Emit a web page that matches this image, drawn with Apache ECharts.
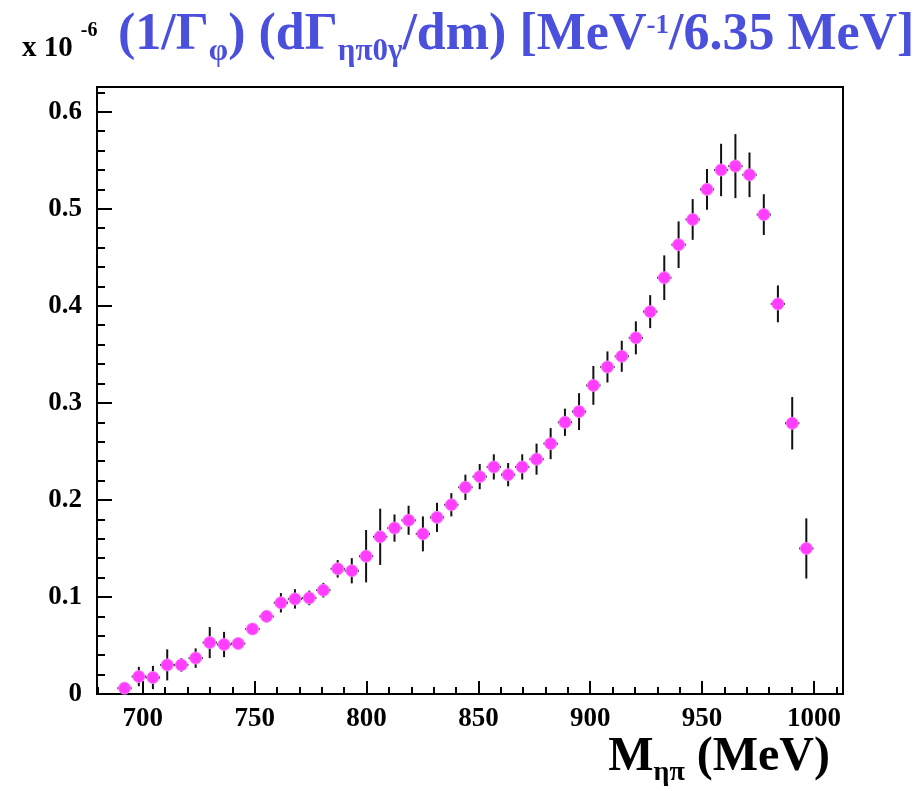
<!DOCTYPE html>
<html>
<head>
<meta charset="utf-8">
<script src="https://cdn.jsdelivr.net/npm/echarts@6/dist/echarts.min.js"></script>
<style>
html,body{margin:0;padding:0;background:#fff;}
#chart{width:921px;height:791px;}
</style>
</head>
<body>
<div id="chart"></div>
<script>
// Bin centres of M(eta pi) in MeV (bin width 6.35 MeV)
const mass = [691.8, 698.2, 704.5, 710.9, 717.2, 723.6, 729.9, 736.3, 742.6, 749.0,
  755.3, 761.7, 768.0, 774.4, 780.7, 787.1, 793.4, 799.8, 806.1, 812.5,
  818.8, 825.2, 831.5, 837.9, 844.2, 850.6, 856.9, 863.3, 869.6, 876.0,
  882.3, 888.7, 895.0, 901.4, 907.7, 914.1, 920.4, 926.8, 933.1, 939.5,
  945.8, 952.2, 958.5, 964.9, 971.2, 977.6, 983.9, 990.3, 996.6];
// (1/Gamma_phi) dGamma/dm, units of 1e-6
const rate = [0.006, 0.018, 0.017, 0.030, 0.030, 0.037, 0.053, 0.051, 0.052, 0.067,
  0.080, 0.094, 0.098, 0.099, 0.107, 0.129, 0.127, 0.142, 0.162, 0.171,
  0.179, 0.165, 0.182, 0.195, 0.213, 0.224, 0.234, 0.226, 0.234, 0.242,
  0.258, 0.280, 0.291, 0.318, 0.337, 0.348, 0.367, 0.394, 0.429, 0.463,
  0.489, 0.520, 0.540, 0.544, 0.535, 0.494, 0.402, 0.279, 0.150];
const rateErr = [0.006, 0.010, 0.012, 0.016, 0.007, 0.010, 0.016, 0.013, 0.004, 0.006,
  0.006, 0.010, 0.010, 0.0075, 0.0075, 0.009, 0.013, 0.027, 0.029, 0.014,
  0.015, 0.018, 0.015, 0.012, 0.013, 0.013, 0.013, 0.012, 0.013, 0.016,
  0.016, 0.014, 0.019, 0.020, 0.016, 0.016, 0.017, 0.017, 0.023, 0.024,
  0.021, 0.021, 0.027, 0.033, 0.023, 0.021, 0.019, 0.027, 0.031];
const binHalfWidth = 3.175;
const xMajorTicks = [700, 750, 800, 850, 900, 950, 1000];
const xMinorTicks = [680, 690, 700, 710, 720, 730, 740, 750, 760, 770, 780, 790, 800, 810, 820, 830, 840, 850, 860, 870, 880, 890, 900, 910, 920, 930, 940, 950, 960, 970, 980, 990, 1000, 1010];
const yMajorTicks = [0, 0.1, 0.2, 0.3, 0.4, 0.5, 0.6];
const yMinorTicks = [0, 0.02, 0.04, 0.06, 0.08, 0.1, 0.12, 0.14, 0.16, 0.18, 0.2, 0.22, 0.24, 0.26, 0.28, 0.3, 0.32, 0.34, 0.36, 0.38, 0.4, 0.42, 0.44, 0.46, 0.48, 0.5, 0.52, 0.54, 0.56, 0.58, 0.6, 0.62];

const FONT = '"Liberation Serif", "DejaVu Serif", serif';
const X_MIN = 679.5, X_MAX = 1013, Y_MIN = 0, Y_MAX = 0.6255;

const points = mass.map((m, i) => [m, rate[i], rateErr[i]]);

const chart = echarts.init(document.getElementById('chart'), null, {renderer: 'canvas'});

const axisLineStyle = {color: '#000', width: 2};
const option = {
  backgroundColor: '#fff',
  animation: false,
  grid: {left: 97, right: 78, top: 87, bottom: 97, show: true, borderColor: '#000', borderWidth: 2, backgroundColor: 'transparent'},
  xAxis: [
    {type: 'value', min: X_MIN, max: X_MAX, position: 'bottom',
      axisLine: {show: true, onZero: false, lineStyle: axisLineStyle},
      axisTick: {show: true, inside: true, length: 13, customValues: xMajorTicks, lineStyle: {color: '#000', width: 2}},
      axisLabel: {show: true, customValues: xMajorTicks, margin: 12, color: '#000', fontFamily: FONT, fontWeight: 'bold', fontSize: 27,
        formatter: v => String(Math.round(v))},
      splitLine: {show: false}},
    {type: 'value', min: X_MIN, max: X_MAX, position: 'bottom',
      axisLine: {show: false, onZero: false},
      axisTick: {show: true, inside: true, length: 7, customValues: xMinorTicks, lineStyle: {color: '#000', width: 2}},
      axisLabel: {show: false}, splitLine: {show: false}}
  ],
  yAxis: [
    {type: 'value', min: Y_MIN, max: Y_MAX, position: 'left',
      axisLine: {show: true, onZero: false, lineStyle: axisLineStyle},
      axisTick: {show: true, inside: true, length: 15, customValues: yMajorTicks, lineStyle: {color: '#000', width: 2}},
      axisLabel: {show: true, customValues: yMajorTicks, margin: 15, color: '#000', fontFamily: FONT, fontWeight: 'bold', fontSize: 27,
        formatter: v => (v === 0 ? '0' : v.toFixed(1))},
      splitLine: {show: false}},
    {type: 'value', min: Y_MIN, max: Y_MAX, position: 'left',
      axisLine: {show: false, onZero: false},
      axisTick: {show: true, inside: true, length: 8, customValues: yMinorTicks, lineStyle: {color: '#000', width: 2}},
      axisLabel: {show: false}, splitLine: {show: false}}
  ],
  series: [
    {type: 'custom', xAxisIndex: 0, yAxisIndex: 0, z: 2, clip: true,
      data: points,
      renderItem: function (params, api) {
        const x = api.value(0), y = api.value(1), e = api.value(2);
        const top = api.coord([x, y + e]);
        const bot = api.coord([x, Math.max(y - e, 0)]);
        const l = api.coord([x - binHalfWidth, y]);
        const r = api.coord([x + binHalfWidth, y]);
        const st = {stroke: '#111', lineWidth: 2};
        return {type: 'group', children: [
          {type: 'line', shape: {x1: top[0], y1: top[1], x2: bot[0], y2: bot[1]}, style: st},
          {type: 'line', shape: {x1: l[0], y1: l[1], x2: r[0], y2: r[1]}, style: st}
        ]};
      }},
    {type: 'scatter', xAxisIndex: 0, yAxisIndex: 0, z: 3,
      data: points.map(p => [p[0], p[1]]),
      symbol: 'circle', symbolSize: 12,
      itemStyle: {color: '#ff3dff', borderColor: '#ff80ff', borderWidth: 1, opacity: 1}}
  ],
  graphic: [
    {type: 'text', left: 22, top: 17, z: 10,
      style: {text: '{a|x 10}{b|-6}', rich: {
        a: {fontFamily: FONT, fontWeight: 'bold', fontSize: 29, fill: '#000', lineHeight: 46, verticalAlign: 'bottom'},
        b: {fontFamily: FONT, fontWeight: 'bold', fontSize: 20, fill: '#000', lineHeight: 22, verticalAlign: 'top', padding: [4, 0, 0, 8]}
      }}},
    {type: 'text', left: 118, top: 5, z: 10,
      style: {text: '{m|(1/Γ}{s|φ}{m|) (dΓ}{s|ηπ0γ}{m|/dm) [MeV}{u|-1}{m|/6.35 MeV]}', rich: {
        m: {fontFamily: FONT, fontWeight: 'bold', fontSize: 52, fill: '#4a4fdc', lineHeight: 62, verticalAlign: 'middle'},
        s: {fontFamily: FONT, fontWeight: 'bold', fontSize: 31, fill: '#4a4fdc', lineHeight: 31, verticalAlign: 'bottom'},
        u: {fontFamily: FONT, fontWeight: 'bold', fontSize: 27, fill: '#4a4fdc', lineHeight: 28, verticalAlign: 'top', padding: [8, 0, 0, 0]}
      }}},
    {type: 'text', right: 91, top: 734, z: 10,
      style: {text: '{m|M}{s|ηπ}{m| (MeV)}', rich: {
        m: {fontFamily: FONT, fontWeight: 'bold', fontSize: 48, fill: '#000', lineHeight: 58, verticalAlign: 'middle'},
        s: {fontFamily: FONT, fontWeight: 'bold', fontSize: 28, fill: '#000', lineHeight: 28, verticalAlign: 'bottom'}
      }}}
  ]
};
chart.setOption(option);
</script>
</body>
</html>
